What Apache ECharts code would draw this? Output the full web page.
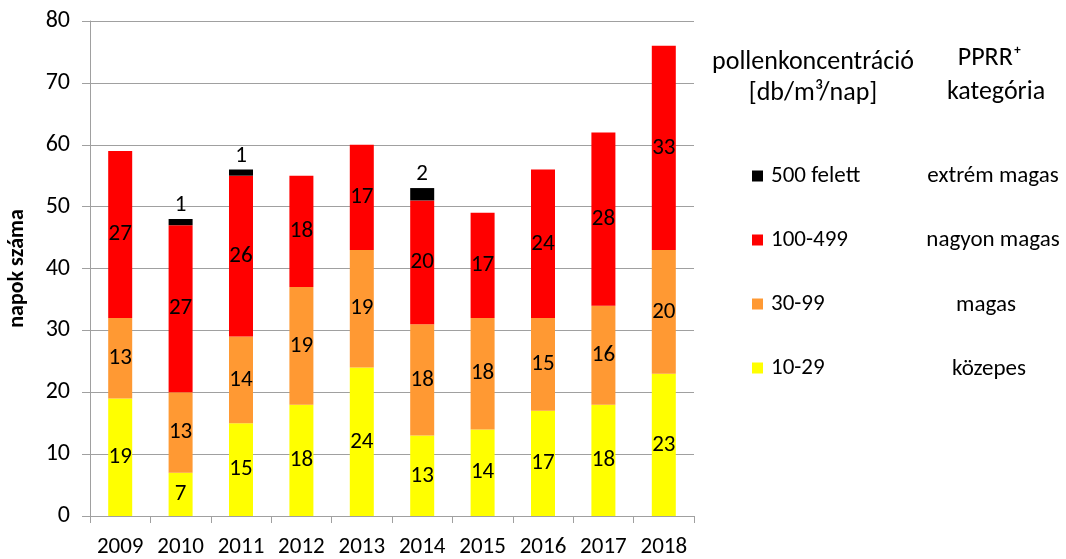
<!DOCTYPE html>
<html>
<head>
<meta charset="utf-8">
<script src="https://cdn.jsdelivr.net/npm/echarts@6/dist/echarts.min.js"></script>
<style>
  html, body { margin: 0; padding: 0; background: #fff; }
  #chart { width: 1066px; height: 559px; }
</style>
</head>
<body>
<div id="chart"></div>
<script>
// evek
const years = ['2009', '2010', '2011', '2012', '2013', '2014', '2015', '2016', '2017', '2018'];

// napok szama kategoriankent
const kozepes = [19, 7, 15, 18, 24, 13, 14, 17, 18, 23];      // 10-29
const magas = [13, 13, 14, 19, 19, 18, 18, 15, 16, 20];       // 30-99
const nagyonMagas = [27, 27, 26, 18, 17, 20, 17, 24, 28, 33]; // 100-499
const extrem = [0, 1, 1, 0, 0, 2, 0, 0, 0, 0];                // 500 felett

const yTicks = [0, 10, 20, 30, 40, 50, 60, 70, 80];

const FONT = 'Carlito, Lato, "Open Sans", sans-serif';

let chart = echarts.init(document.getElementById('chart'));

function lbl(pos) {
    return {
        show: true,
        position: pos,
        color: '#000',
        fontSize: 23,
        fontFamily: FONT,
        formatter: function(p) { return p.value > 0 ? p.value : ''; }
    };
}

function txt(x, y, s, size) {
    return {
        type: 'text', x: x, y: y,
        style: { text: s, fontSize: size, fontFamily: FONT, fill: '#000', align: 'center', verticalAlign: 'middle' }
    };
}

chart.setOption({
    animation: false,
    textStyle: { fontFamily: FONT },
    grid: { left: 90, right: 372, top: 21, bottom: 43, containLabel: false, outerBoundsMode: 'none' },
    legend: {
        orient: 'vertical',
        left: 752,
        top: 164,
        padding: 0,
        itemWidth: 11,
        itemHeight: 11,
        itemGap: 40,
        icon: 'rect',
        data: ['500 felett', '100-499', '30-99', '10-29'],
        textStyle: { fontSize: 23, fontFamily: FONT, color: '#000', lineHeight: 24, padding: [0, 0, 0, 3] },
        selectedMode: false
    },
    graphic: [
        txt(813, 62, 'pollenkoncentráció', 26),
        txt(813, 93, '[db/m³/nap]', 26),
        txt(990, 58, 'PPRR⁺', 26),
        txt(996, 92, 'kategória', 26),
        txt(993, 176, 'extrém magas', 23),
        txt(993, 240, 'nagyon magas', 23),
        txt(986, 305, 'magas', 23),
        txt(989, 369, 'közepes', 23)
    ],
    xAxis: {
        type: 'category',
        data: years,
        axisLine: { lineStyle: { color: '#a0a0a0' } },
        axisTick: { show: true, length: 7, lineStyle: { color: '#a0a0a0' } },
        axisLabel: { color: '#000', fontSize: 23, fontFamily: FONT, margin: 20, interval: 0 }
    },
    yAxis: {
        type: 'value',
        min: yTicks[0],
        max: yTicks[yTicks.length - 1],
        interval: 10,
        name: 'napok száma',
        nameLocation: 'middle',
        nameGap: 62,
        nameTextStyle: { color: '#000', fontSize: 22, fontWeight: 'bold', fontFamily: FONT },
        axisLine: { show: true, lineStyle: { color: '#a0a0a0' } },
        axisTick: { show: true, length: 8, lineStyle: { color: '#a0a0a0' } },
        axisLabel: { color: '#000', fontSize: 24, fontFamily: FONT, margin: 20 },
        splitLine: { lineStyle: { color: '#a0a0a0' } }
    },
    series: [
        { name: '10-29', type: 'bar', stack: 'n', barWidth: 24, data: kozepes, itemStyle: { color: '#ffff00' }, label: lbl('inside') },
        { name: '30-99', type: 'bar', stack: 'n', barWidth: 24, data: magas, itemStyle: { color: '#ff9933' }, label: lbl('inside') },
        { name: '100-499', type: 'bar', stack: 'n', barWidth: 24, data: nagyonMagas, itemStyle: { color: '#ff0000' }, label: lbl('inside') },
        { name: '500 felett', type: 'bar', stack: 'n', barWidth: 24, data: extrem, itemStyle: { color: '#000000' }, label: Object.assign(lbl('top'), { distance: 2 }) }
    ]
});
</script>
</body>
</html>
